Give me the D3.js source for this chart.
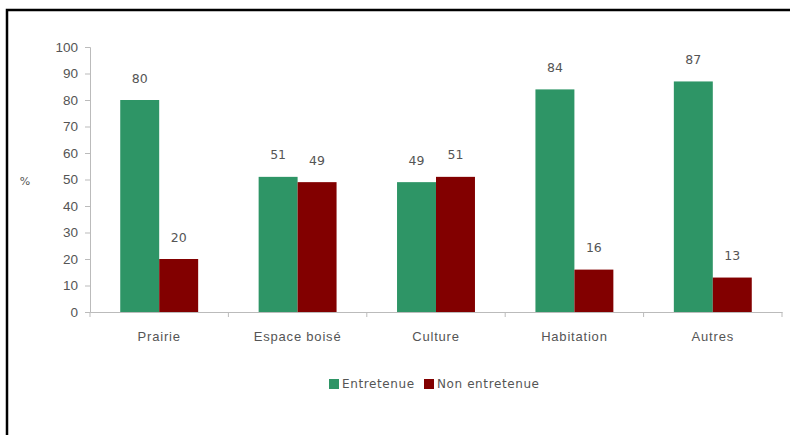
<!DOCTYPE html>
<html>
<head>
<meta charset="utf-8">
<script src="https://cdn.jsdelivr.net/npm/d3@7"></script>
<style>
  body { margin: 0; background: #fff; }
  svg { display: block; font-family: "DejaVu Sans", sans-serif; }
</style>
</head>
<body>
<div id="chart"></div>
<script>
const categories = ["Prairie", "Espace boisé", "Culture", "Habitation", "Autres"];
const seriesNames = ["Entretenue", "Non entretenue"];
const entretenue = [80, 51, 49, 84, 87];
const nonEntretenue = [20, 49, 51, 16, 13];
const yTicks = [0, 10, 20, 30, 40, 50, 60, 70, 80, 90, 100];
const colors = ["#2e9566", "#820000"];

const W = 790, H = 435;
const m = { t: 47, r: 8, b: 123, l: 90 };
const iw = W - m.l - m.r, ih = H - m.t - m.b;

const svg = d3.select("#chart").append("svg")
  .attr("width", W).attr("height", H);

// frame (only top and left visible in the crop)
svg.append("path")
  .attr("d", `M7,${H} V10 H${W}`)
  .attr("fill", "none").attr("stroke", "#000").attr("stroke-width", 2.5);

const g = svg.append("g").attr("transform", `translate(${m.l},${m.t})`);

const x0 = d3.scaleBand().domain(categories).range([0, iw]).padding(0);
const x1 = d3.scaleBand().domain(seriesNames)
  .range([0, x0.bandwidth()]).paddingInner(0).paddingOuter(0.776);
const y = d3.scaleLinear().domain([0, 100]).range([ih, 0]);

// y axis
const yAxis = g.append("g").call(d3.axisLeft(y).tickValues(yTicks).tickSize(5).tickPadding(7));
yAxis.select(".domain").attr("stroke", "#bbb");
yAxis.selectAll(".tick line").attr("stroke", "#bbb");
yAxis.selectAll("text").attr("fill", "#555").style("font-size", "13.5px");

// x axis
const xAxis = g.append("g").attr("transform", `translate(0,${ih})`)
  .call(d3.axisBottom(x0).tickSize(0).tickPadding(20));
xAxis.select(".domain").attr("stroke", "#bbb");
xAxis.selectAll("text").attr("fill", "#555")
  .style("font-size", "13px").style("letter-spacing", "0.8px");
// category separator ticks
xAxis.selectAll(".sep")
  .data(d3.range(categories.length + 1))
  .join("line")
  .attr("class", "sep")
  .attr("x1", i => i * x0.step()).attr("x2", i => i * x0.step())
  .attr("y1", 0).attr("y2", 5)
  .attr("stroke", "#bbb");

svg.append("text")
  .attr("x", 25).attr("y", 182)
  .attr("text-anchor", "middle").attr("dominant-baseline", "middle")
  .attr("fill", "#555").style("font-size", "11px")
  .text("%");

const rows = categories.map((c, i) => ({ cat: c, vals: [entretenue[i], nonEntretenue[i]] }));

const groups = g.selectAll(".grp")
  .data(rows)
  .join("g")
  .attr("class", "grp")
  .attr("transform", d => `translate(${x0(d.cat)},0)`);

groups.selectAll("rect")
  .data(d => d.vals.map((v, j) => ({ s: seriesNames[j], v, j })))
  .join("rect")
  .attr("x", d => x1(d.s))
  .attr("y", d => y(d.v))
  .attr("width", x1.bandwidth())
  .attr("height", d => ih - y(d.v))
  .attr("fill", d => colors[d.j]);

groups.selectAll("text.val")
  .data(d => d.vals.map((v, j) => ({ s: seriesNames[j], v, j })))
  .join("text")
  .attr("class", "val")
  .attr("x", d => x1(d.s) + x1.bandwidth() / 2)
  .attr("y", d => y(d.v) - 21)
  .attr("text-anchor", "middle").attr("dominant-baseline", "middle")
  .attr("fill", "#555").style("font-size", "12.5px")
  .text(d => d.v);

// legend
const legend = svg.append("g").attr("transform", "translate(329,384)");
const legendX = [0, 95];
seriesNames.forEach((s, i) => {
  const lg = legend.append("g").attr("transform", `translate(${legendX[i]},0)`);
  lg.append("rect").attr("x", 0).attr("y", -5).attr("width", 10).attr("height", 10)
    .attr("fill", colors[i]);
  lg.append("text").attr("x", 13).attr("y", 0)
    .attr("dominant-baseline", "middle")
    .attr("fill", "#555").style("font-size", "12px").style("letter-spacing", "0.6px")
    .text(s);
});
</script>
</body>
</html>
